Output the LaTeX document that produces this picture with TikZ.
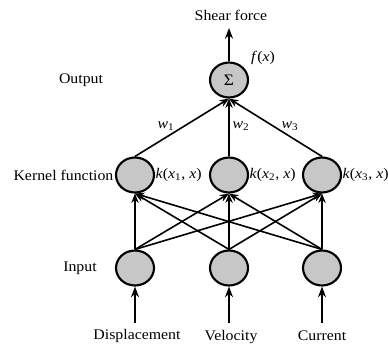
\documentclass[tikz,border=0pt]{standalone}
\usepackage{fontspec}
\setmainfont[FakeStretch=1.08]{Liberation Serif}
\usetikzlibrary{arrows.meta,shapes.geometric}
\begin{document}
\begin{tikzpicture}[x=0.75pt,y=-0.75pt,
  neuron/.style={ellipse,draw,line width=1.6pt,fill=black!22,minimum width=38*0.75pt,minimum height=35*0.75pt,inner sep=0pt},
  lbl/.style={font=\fontsize{11}{13}\selectfont,inner sep=1pt},
  conn/.style={line width=1.2pt},
  arr/.style={line width=1.6pt,-{Stealth[length=8pt,width=6pt]}},
  carr/.style={line width=1.2pt,-{Stealth[length=7pt,width=5.5pt]}}]
\useasboundingbox (0,0) rectangle (388,345);
% nodes
\node[neuron] (o) at (229,80) {\fontsize{12}{14}\selectfont Σ};
\node[neuron] (k1) at (135,175) {};
\node[neuron] (k2) at (229,175) {};
\node[neuron] (k3) at (322,175) {};
\node[neuron] (i1) at (135,268) {};
\node[neuron] (i2) at (229,268) {};
\node[neuron] (i3) at (322,268) {};
% labels
\node[lbl] (shear) at (231,15) {Shear force};
\node[lbl] (fx) at (263,58) {\textit{f}(\textit{x})};
\node[lbl] (outl) at (81,80) {Output};
\node[lbl,anchor=east] (kerl) at (115,175) {Kernel function};
\node[lbl] (inl) at (80,268) {Input};
\node[lbl,anchor=west] (kl1) at (154,175) {\textit{k}(\textit{x}\textsubscript{1}, \textit{x})};
\node[lbl,anchor=west] (kl2) at (248,175) {\textit{k}(\textit{x}\textsubscript{2}, \textit{x})};
\node[lbl,anchor=west] (kl3) at (341,175) {\textit{k}(\textit{x}\textsubscript{3}, \textit{x})};
\node[lbl] (w1) at (166,126) {\textit{w}\textsubscript{1}};
\node[lbl] (w2) at (241,126) {\textit{w}\textsubscript{2}};
\node[lbl] (w3) at (290,126) {\textit{w}\textsubscript{3}};
\node[lbl] (d) at (137,336) {Displacement};
\node[lbl] (v) at (231,337) {Velocity};
\node[lbl] (c) at (322,336) {Current};
\coordinate (sa) at (229,28);
\coordinate (da) at (135,323);
\coordinate (va) at (229,323);
\coordinate (ca) at (322,323);
% connectors
\draw[arr] (o.north) -- (sa);
\foreach \k in {k1,k2,k3} \draw[carr] (\k.north) -- (o.south);
\foreach \i in {i1,i2,i3} \foreach \k in {k1,k2,k3} \draw[carr] (\i.north) -- (\k.south);
\draw[arr] (da) -- (i1.south);
\draw[arr] (va) -- (i2.south);
\draw[arr] (ca) -- (i3.south);
\end{tikzpicture}
\end{document}
